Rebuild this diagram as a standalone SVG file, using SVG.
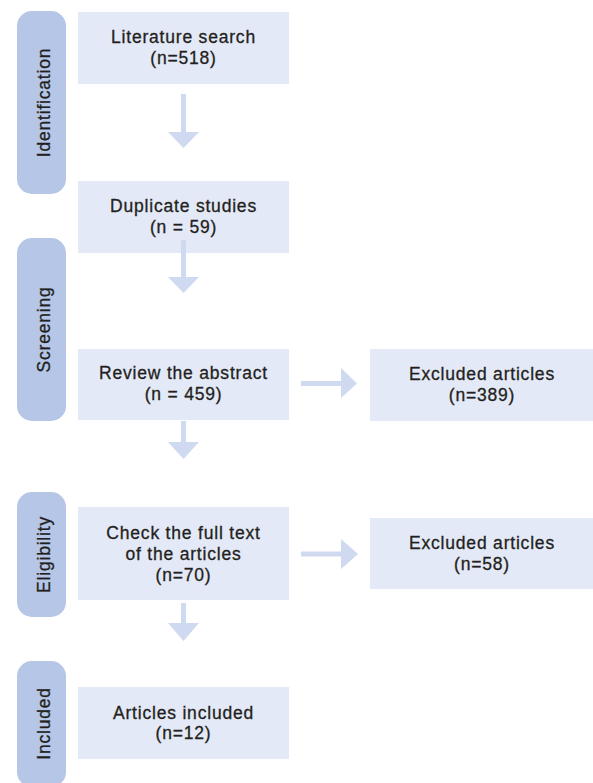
<svg xmlns="http://www.w3.org/2000/svg" width="593" height="783" viewBox="0 0 593 783">
<style>
.pill{fill:#b5c6e6}
.box{fill:#e3e9f6}
.arr{fill:#cfd9ef}
text{font-family:"Liberation Sans",Arial,Helvetica,sans-serif;font-size:17.5px;fill:#231f20;stroke:#231f20;stroke-width:0.3px;letter-spacing:0.8px;text-anchor:middle}
</style>
<rect width="593" height="783" fill="#ffffff"/>
<g id="stage-identification"><rect class="pill" x="17" y="11" width="49" height="183" rx="15"/><text transform="translate(49.5,102.5) rotate(-90)">Identification</text></g>
<g id="stage-screening"><rect class="pill" x="17" y="238" width="49" height="183" rx="15"/><text transform="translate(49.5,329.5) rotate(-90)">Screening</text></g>
<g id="stage-eligibility"><rect class="pill" x="17" y="492" width="49" height="125" rx="15"/><text transform="translate(49.5,554.5) rotate(-90)">Eligibility</text></g>
<g id="stage-included"><rect class="pill" x="17" y="661" width="49" height="126" rx="15"/><text transform="translate(49.5,723.5) rotate(-90)">Included</text></g>

<g id="literature-search"><rect class="box" x="78" y="12" width="211" height="72"/><text x="183.5" y="43">Literature search</text><text x="183.5" y="64">(n=518)</text></g>
<g id="duplicate-studies"><rect class="box" x="78" y="181" width="211" height="72"/><text x="183.5" y="212">Duplicate studies</text><text x="183.5" y="233">(n = 59)</text></g>
<g id="review-abstract"><rect class="box" x="78" y="349" width="211" height="71"/><text x="183.5" y="379">Review the abstract</text><text x="183.5" y="400">(n = 459)</text></g>
<g id="excluded-389"><rect class="box" x="370" y="349" width="223" height="72"/><text x="482" y="380">Excluded articles</text><text x="482" y="401">(n=389)</text></g>
<g id="check-full-text"><rect class="box" x="78" y="507" width="211" height="93"/><text x="183.5" y="539">Check the full text</text><text x="183.5" y="560">of the articles</text><text x="183.5" y="581">(n=70)</text></g>
<g id="excluded-58"><rect class="box" x="370" y="518" width="223" height="71"/><text x="482" y="549">Excluded articles</text><text x="482" y="570">(n=58)</text></g>
<g id="articles-included"><rect class="box" x="78" y="687" width="211" height="72"/><text x="183.5" y="719">Articles included</text><text x="183.5" y="739">(n=12)</text></g>

<g id="connectors">
<path class="arr" d="M181,94 H186 V132 H199 L183.5,148 L168,132 H181 Z"/>
<path class="arr" d="M181,240 H186 V277 H199 L183.5,293 L168,277 H181 Z"/>
<path class="arr" d="M181,421 H186 V442 H199 L183.5,459 L168,442 H181 Z"/>
<path class="arr" d="M181,603 H186 V623 H199 L183.5,641 L168,623 H181 Z"/>
<path class="arr" d="M301,381 V386 H341 V398 L357,383.5 L341,368 V381 Z"/>
<path class="arr" d="M301,551.5 V556.5 H341 V569 L358,554 L341,539 V551.5 Z"/>
</g>
</svg>
